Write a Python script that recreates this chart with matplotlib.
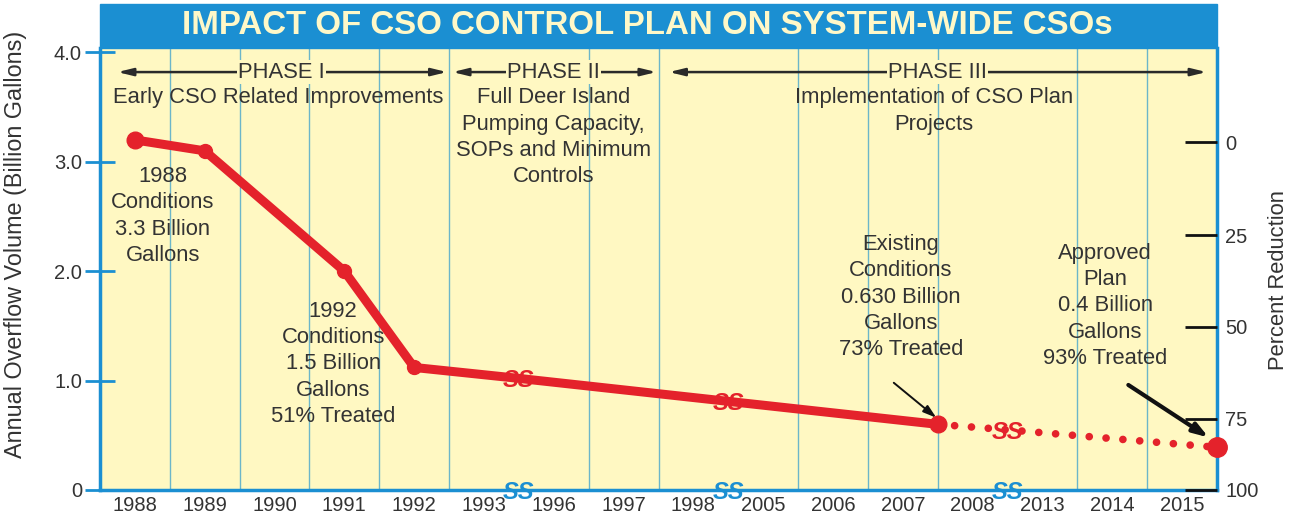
import matplotlib.pyplot as plt
import numpy as np

# x categories (axis has breaks between 1993/1996, 1998/2005, 2008/2013)
years = ['1988', '1989', '1990', '1991', '1992', '1993', '1996', '1997',
         '1998', '2005', '2006', '2007', '2008', '2013', '2014', '2015']

# overflow volume, billion gallons (x in category-index units)
solid_x = [0, 1, 3, 4, 5.5, 8.5, 11.5]
solid_y = [3.2, 3.1, 2.0, 1.12, 1.02, 0.81, 0.6]
plan_x = [11.5, 12.5, 15.5]
plan_y = [0.6, 0.55, 0.39]

breaks = [5.5, 8.5, 12.5]
break_y = [1.02, 0.81, 0.55]

pct_labels = ['0', '25', '50', '75', '100']
pct_pos = [3.18, 2.33, 1.49, 0.65, 0.0]

phases = ['PHASE I', 'PHASE II', 'PHASE III']
phase_span = [(-0.25, 4.47), (4.55, 7.47), (7.65, 15.35)]
phase_mid = [2.1, 6.0, 11.5]
phase_text = ['Early CSO Related Improvements',
              'Full Deer Island\nPumping Capacity,\nSOPs and Minimum\nControls',
              'Implementation of CSO Plan\nProjects']
phase_text_x = [2.05, 6.0, 11.45]

notes = ['1988\nConditions\n3.3 Billion\nGallons',
         '1992\nConditions\n1.5 Billion\nGallons\n51% Treated',
         'Existing\nConditions\n0.630 Billion\nGallons\n73% Treated',
         'Approved\nPlan\n0.4 Billion\nGallons\n93% Treated']
notes_xy = [(0.4, 2.96), (2.84, 1.73), (10.97, 2.34), (13.9, 2.26)]

RED = '#e4222b'
BLUE = '#1b8fd2'
GRID = '#6cb6c9'
BG = '#fff8c2'
TXT = '#333333'
FS = 15.8

plt.rcParams['font.family'] = ['Liberation Sans', 'DejaVu Sans']

fig = plt.figure(figsize=(12.94, 5.19), dpi=100)
ax = fig.add_axes([0.0773, 0.0559, 0.8632, 0.8516])
ax.set_facecolor(BG)
ax.set_xlim(-0.5, 15.5)
ax.set_ylim(0, 4.04)

# vertical separators, none at the axis breaks
for gx in np.arange(0.5, 15.5, 1):
    if gx not in breaks:
        ax.axvline(gx, color=GRID, lw=1, zorder=1)

ax.set_xticks(range(len(years)))
ax.set_xticklabels(years, fontsize=14.5, color=TXT)
ax.tick_params(axis='x', length=0, pad=4)

ax.set_yticks([0, 1, 2, 3, 4])
ax.set_yticklabels(['0', '1.0', '2.0', '3.0', '4.0'], fontsize=14.5, color=TXT)
ax.tick_params(axis='y', direction='inout', length=22, width=2, color=BLUE, pad=2)
ax.set_ylabel('Annual Overflow Volume (Billion Gallons)', fontsize=16.8, color=TXT)
ax.yaxis.set_label_coords(-0.065, 0.555)

for s in ['left', 'bottom', 'right']:
    ax.spines[s].set_color(BLUE)
    ax.spines[s].set_linewidth(2.5)
ax.spines['top'].set_visible(False)

ax2 = ax.twinx()
ax2.set_ylim(ax.get_ylim())
ax2.set_yticks(pct_pos)
ax2.set_yticklabels(pct_labels, fontsize=14.5, color=TXT)
ax2.tick_params(axis='y', direction='in', length=23, width=2, color='#111111', pad=6)
ax2.set_ylabel('Percent Reduction', fontsize=15.8, color=TXT)
ax2.yaxis.set_label_coords(1.046, 0.475)
for s in ['left', 'bottom', 'right', 'top']:
    ax2.spines[s].set_visible(False)

# the data line
ax.plot(solid_x, solid_y, color=RED, lw=6.5, solid_capstyle='round',
        solid_joinstyle='round', zorder=4)
ax.plot(solid_x[:4], solid_y[:4], 'o', color=RED, ms=10, zorder=4)
ax.plot(solid_x[0], solid_y[0], 'o', color=RED, ms=12, zorder=4)
ax.plot(plan_x, plan_y, color=RED, lw=5.5, linestyle=(0, (0.01, 2.2)),
        dash_capstyle='round', zorder=4)
ax.plot(plan_x[0], plan_y[0], 'o', color=RED, ms=12, zorder=5)
ax.plot(plan_x[-1], plan_y[-1], 'o', color=RED, ms=14, zorder=5, clip_on=False)

# break symbols on the line and on the axis
for bx, by in zip(breaks, break_y):
    ax.text(bx, by - 0.02, 'SS', color=RED, fontsize=17, fontweight='bold', style='italic',
            ha='center', va='center', zorder=6)
    ax.text(bx, -0.02, 'SS', color=BLUE, fontsize=17, fontweight='bold', style='italic',
            ha='center', va='center', zorder=6, clip_on=False)

# phases
for name, (x0, x1), xm in zip(phases, phase_span, phase_mid):
    ax.annotate('', xy=(x0, 3.82), xytext=(x1, 3.82),
                arrowprops=dict(arrowstyle='<|-|>,head_length=0.9,head_width=0.22',
                                color='#2a2a2a', lw=1.8, shrinkA=0, shrinkB=0), zorder=3)
    ax.text(xm, 3.82, name, fontsize=FS, color=TXT, ha='center', va='center', zorder=4,
            bbox=dict(boxstyle='square,pad=0.05', fc=BG, ec='none'))

for txt, tx in zip(phase_text, phase_text_x):
    ax.text(tx, 3.68, txt, fontsize=FS, color=TXT, ha='center', va='top',
            linespacing=1.33, zorder=3)

for txt, (nx, ny) in zip(notes, notes_xy):
    ax.text(nx, ny, txt, fontsize=FS, color=TXT, ha='center', va='top',
            linespacing=1.33, zorder=3)

ax.annotate('', xy=(11.48, 0.66), xytext=(10.87, 0.98),
            arrowprops=dict(arrowstyle='-|>,head_length=0.8,head_width=0.25',
                            color='#111111', lw=1.4, shrinkA=0, shrinkB=0))
ax.annotate('', xy=(15.38, 0.48), xytext=(14.23, 0.96),
            arrowprops=dict(arrowstyle='-|>,head_length=0.9,head_width=0.3',
                            color='#111111', lw=3, shrinkA=0, shrinkB=0))

# title banner
fig.patches.append(plt.Rectangle((0.0773, 0.9075), 0.8632, 0.0848, transform=fig.transFigure,
                                 fc=BLUE, ec=BLUE, lw=1))
fig.text(0.5, 0.951, 'IMPACT OF CSO CONTROL PLAN ON SYSTEM-WIDE CSOs', fontsize=23.8,
         fontweight='bold', color='#fff8c8', ha='center', va='center')

fig.savefig('out.png', dpi=100)
